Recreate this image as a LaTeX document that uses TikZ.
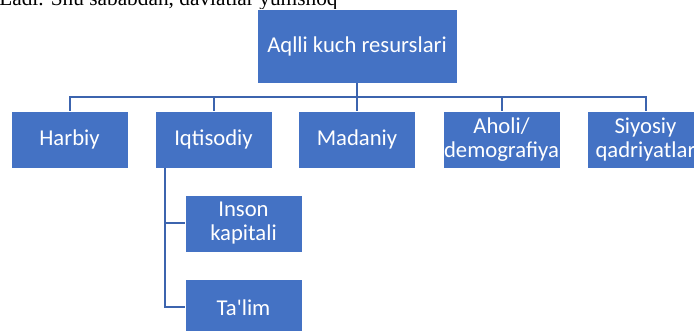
\documentclass[tikz,border=0pt]{standalone}
\usepackage{fontspec}
\setmainfont{Liberation Serif}
\newfontfamily\boxfont{Carlito}
\usepackage{tikz}
\usetikzlibrary{positioning}

\definecolor{boxblue}{HTML}{4472C4}
\definecolor{lineblue}{HTML}{3C64AE}

\tikzset{
  res/.style={draw=white, line width=0.6pt, fill=boxblue, text=white,
    minimum width=87.75pt, minimum height=42.75pt, inner sep=0pt,
    align=center, font=\boxfont\fontsize{17}{18}\selectfont},
  link/.style={draw=lineblue, line width=1.5pt}
}

\begin{document}
\begin{tikzpicture}[x=0.75pt, y=-0.75pt]
			\clip (0,0) rectangle (694,331);
			\node[anchor=base west, inner sep=0pt, font=\fontsize{16}{18}\selectfont] (ladi) at (-1,6) {Ladi. Shu sababdan, davlatlar yumshoq};
			
			\node[res, minimum width=150pt, minimum height=55.5pt] (top) at (357,46) {Aqlli kuch resurslari};
			
			\node[res] (harbiy) at (69.5,139.5) {Harbiy};
			\node[res] (iqtisod) at (213.5,139.5) {Iqtisodiy};
			\node[res] (madaniy) at (357,139.5) {Madaniy};
			\node[res] (aholi) at (501.5,139.5) {Aholi/\\demografiya};
			\node[res] (siyosiy) at (645.5,139.5) {Siyosiy\\qadriyatlar};
			
			\node[res] (inson) at (243.5,223.5) {Inson\\kapitali};
			\node[res] (talim) at (243.5,307.5) {Ta'lim};
			
			\foreach \n in {harbiy,iqtisod,madaniy,aholi,siyosiy}
			  \draw[link] (top.south) -- ++(0,14) -| (\n.north);
			
			\coordinate (iq) at ([xshift=-36.4pt]iqtisod.south);
			\draw[link] (iq) |- (inson.west);
			\draw[link] (iq) |- (talim.west);
\end{tikzpicture}
\end{document}
